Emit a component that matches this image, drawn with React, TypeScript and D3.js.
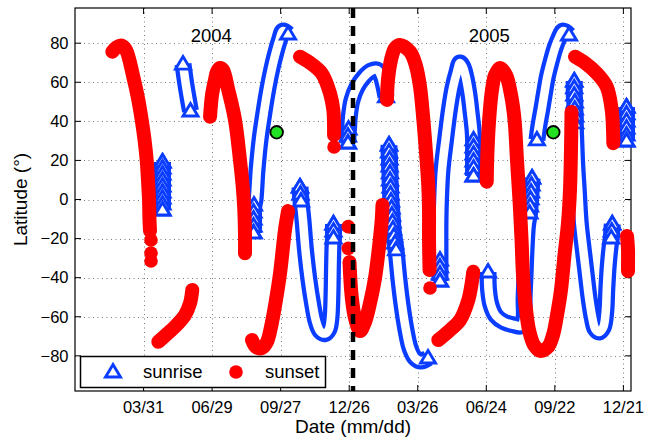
import React from "react";
import * as d3 from "d3";

// ---------- axes data ----------
const dayDomain: [number, number] = [1, 731];
const latDomain: [number, number] = [-98, 98];
const xTickDays = [91, 181, 271, 361, 451, 541, 631, 721];
const xTickLabels = ["03/31", "06/29", "09/27", "12/26", "03/26", "06/24", "09/22", "12/21"];
const yTicks = [-80, -60, -40, -20, 0, 20, 40, 60, 80];
const yearBoundaryDay = 366;
const yearLabels = ["2004", "2005"];
const yearLabelDays = [180, 545];
const yearLabelLat = 84;
const siteMarkers = [[265.8, 34.4], [629, 34.4]];

// ---------- sunset (red) curves: [day, latitude] ----------
const sunsetA = [[50.0, 75.6], [55.8, 78.0], [62.1, 78.8], [68.0, 76.5], [77.5, 62.8], [83.7, 51.9], [88.6, 40.7], [92.3, 30.5], [95.1, 20.2], [96.8, 10.0], [98.2, -0.3], [98.8, -10.5], [99.5, -16.1]];
const sunsetB = [[110.4, -72.8], [121.8, -68.8], [132.3, -65.1], [145.4, -59.1], [152, -53.1], [155, -46.3]];
const sunsetC = [[178.3, 42.4], [180.9, 53.5], [184.8, 61.2], [187.4, 65.3], [191.4, 67.3], [195.3, 66.3], [202.3, 56], [211.1, 40.7], [217.6, 20.2], [221.6, 4.9], [223.3, -5.4], [224.2, -18.2], [224.2, -27.5]];
const sunsetD = [[233.4, -71.9], [238.7, -75.5], [246.6, -76], [253.1, -72.9], [259.3, -63.4], [264.9, -51.4], [270.2, -37.8], [276.7, -15.6], [280.7, -5.9]];
const sunsetE = [[296.4, 73.1], [309.6, 69.9], [324.9, 64.6], [335.8, 54.4], [340.2, 45.8], [341.1, 38.1], [341.1, 33]];
const sunsetF = [[361.4, -32], [364.3, -49.7], [368.6, -60.6], [375.2, -67.3], [381.8, -62.7], [388.3, -53.1], [394.9, -40.2], [399.2, -27.5], [403.7, -10.5], [404.7, -2.8]];
const sunsetG = [[410.6, 50.9], [411.9, 61.2], [415.9, 71.4], [421.2, 77.5], [427.7, 79.1], [440.9, 75.6], [448.4, 68.8], [454, 57.7], [458.4, 40.7], [461.9, 23.6], [464.9, 6.6], [465.8, -5.4], [465.8, -20.7], [466.5, -36.1]];
const sunsetH = [[478, -71.9], [493.4, -66.8], [506.5, -61.7], [517.4, -51.4], [521.8, -42.9], [523.9, -37]];
const sunsetI = [[541.6, 9.1], [542.6, 25.3], [545.2, 43.2], [548.5, 56], [552.5, 63.7], [559, 67.3], [566.9, 63.7], [573.5, 53.5], [578.1, 40.7], [581.3, 20.2], [584.6, -0.3], [587.3, -20.7], [589.2, -38.6], [592.5, -54], [597.1, -66.8], [603.7, -74.5], [611.6, -77.5], [622, -75.5], [628.6, -69.4], [633.9, -59.1], [639.1, -46.3], [643.7, -28.4], [648.3, -12], [650.9, 4.9], [652.2, 25.3], [652.9, 44.8]];
const sunsetJ = [[657.5, 73.1], [670.6, 69.9], [686, 64.6], [699.1, 57.7], [705.7, 45.8], [707.4, 35.6], [707.8, 28.8]];
const sunsetK = [[725.8, -18.7], [727.1, -25.8], [727.1, -32], [727.1, -36.6]];
const sunsetSingles = [[100.8, -20.7], [100.8, -27.4], [100.8, -31.5], [341.1, 26.9], [359.8, -13.9], [359.8, -25], [467.1, -45.3]];
const sunsetCurves = [sunsetA, sunsetB, sunsetC, sunsetD, sunsetE, sunsetF, sunsetG, sunsetH, sunsetI, sunsetJ, sunsetK];

// ---------- sunrise (blue) curves: [day, latitude] ----------
const riseA = [[142.8, 69.3], [146.7, 58.6], [150, 50.9], [152.6, 45.3]];
const riseBStack = [[115.9, 19.2], [115.9, 16.1], [115.9, 13], [115.9, 10], [115.9, 6.9], [115.9, 3.8], [115.9, 0.8], [115.9, -2.3], [115.9, -5.4]];
const riseCArc = [[280.7, 84.7], [274.1, 86.2], [269.5, 81.6], [264.9, 75.5], [259.7, 67.3], [254.4, 57.1], [249.2, 44.8], [243.9, 30.5], [240, 15.1], [237.3, -0.3]];
const riseCStack = [[236, -2.8], [235.4, -6.4], [235.4, -10], [235.4, -13.6], [235.4, -17.1]];
const riseDStackL = [[296.4, 6.4], [297, 2.8], [297.7, -0.8]];
const riseDArc = [[300.3, -10.5], [303.6, -25.8], [308.2, -41.2], [312.8, -53], [317.4, -62.2], [322.7, -67.3], [329.3, -68.6], [334.5, -66.3], [337.1, -60.6], [338.4, -48.9], [339.1, -33.5], [339.8, -23.3]];
const riseDStackR = [[340.4, -19.7], [340.4, -16.1], [340.4, -12.5]];
const riseEStack = [[359.4, 28.9], [359.4, 32.5], [360.1, 36.1]];
const riseEArc = [[361.4, 43.2], [364.7, 50.9], [371.3, 57.6], [380.5, 62.7], [389.7, 65.8], [397.6, 66.3], [402.9, 63.2], [406.2, 58.6], [409.4, 52.5]];
const riseFStack = [[413.3, 27.9], [413.3, 24.3], [414, 20.7], [414, 17.1], [414.6, 13.6], [414.6, 10], [415.3, 6.4], [415.3, 2.8], [415.9, -0.8], [416.6, -4.4], [417.2, -7.9], [417.9, -11.5], [418.5, -15.1], [419.8, -18.7], [421.2, -22.3], [422.5, -25.8]];
const riseFArc = [[426.4, -41.2], [430.4, -54], [435.6, -66.8], [440.9, -76], [447.5, -81.1], [455.3, -82.7], [464.5, -81.1]];
const riseGStackL = [[480.2, -41.7], [480.2, -38.1], [480.2, -34.5], [480.2, -31]];
const riseGArc = [[480.2, -23.3], [480.2, -13.1], [480.9, -0.3], [482.9, 15.1], [487.5, 30.5], [492.5, 45.8], [497.3, 57.1], [502.6, 65.3], [506.5, 69.9], [510.4, 67.8], [514.4, 62.2], [518.3, 53.5], [521, 44.8], [523.6, 35.6]];
const riseGStackR = [[524.3, 30.5], [524.3, 26.9], [524.3, 23.3], [524.3, 19.7], [524.3, 16.1], [524.3, 12]];
const riseHArc = [[543.3, -37.1], [544, -46.3], [547.2, -54], [553.8, -59.6], [564.3, -62.7], [577.4, -64.2], [586.7, -64.7], [590.6, -60.6], [590.6, -51.4], [591.9, -38.6], [593.2, -25.8], [595.2, -13.1]];
const riseHStack = [[597.8, -6.9], [598.5, -3.3], [599.1, 0.3], [599.8, 3.8], [600.4, 7.4], [601.1, 11]];
const riseI = [[607.5, 30.5], [610.2, 38.1], [613.7, 45.8], [617.4, 54.5], [621.1, 62.7], [626, 70.4], [631.2, 77.5], [636.5, 82.7], [641.7, 86.2], [649.6, 84.2]];
const riseJStackT = [[656.5, 60.6], [656.5, 57.1], [656.5, 53.5], [657.2, 49.9], [657.2, 46.3], [657.8, 42.7], [657.8, 39.2]];
const riseJArc = [[658.5, 30.5], [659.8, 17.7], [661.8, 4.9], [664.4, -12], [668.4, -25.8], [672.3, -38.6], [676.3, -51.4], [680.2, -60.6], [684.1, -66.3], [689.4, -67.8], [694.7, -65.3], [698, -56.6], [699.2, -46.3], [701.2, -33.5], [703.8, -23.3]];
const riseJStackR = [[705.1, -19.7], [705.8, -16.1], [706.4, -12.5]];
const riseKStack = [[725.1, 47.3], [725.1, 43.8], [725.1, 40.2], [725.1, 36.6], [725.1, 33], [725.1, 29.9]];

const sunriseCurves = [
  riseA,
  riseBStack,
  [...riseCArc, ...riseCStack],
  [...riseDStackL, ...riseDArc, ...riseDStackR],
  [...riseEStack, ...riseEArc],
  [...riseFStack, ...riseFArc],
  [...riseGStackL, ...riseGArc, ...riseGStackR],
  [...riseHArc, ...riseHStack],
  riseI,
  [...riseJStackT, ...riseJArc, ...riseJStackR],
  riseKStack,
];
const sunriseStacks = [riseBStack, riseCStack, riseDStackL, riseDStackR, riseEStack, riseFStack, riseGStackL, riseGStackR, riseHStack, riseJStackT, riseJStackR, riseKStack];

const BLUE = "#0a3dff";
const RED = "#ff0000";
const FONT = "'Liberation Sans', Arial, Helvetica, sans-serif";
const TRI = "M0,-7.5L7.5,5L-7.5,5Z";

export default function App() {
  const W = 645, H = 441;
  const L = 75, R = 631, T = 8, B = 391;
  const x = d3.scaleLinear().domain(dayDomain).range([L, R]);
  const y = d3.scaleLinear().domain(latDomain).range([B, T]);
  const line = d3
    .line<number[]>()
    .x((d) => x(d[0]))
    .y((d) => y(d[1]))
    .curve(d3.curveCatmullRom.alpha(0.5));

  const stackTris: number[][] = [];
  sunriseStacks.forEach((s) => s.forEach((p) => stackTris.push(p)));
  sunriseCurves.forEach((c) => {
    stackTris.push(c[0]);
    stackTris.push(c[c.length - 1]);
  });
  const trisSorted = stackTris.slice().sort((a, b) => b[1] - a[1]);

  return (
    <svg width={W} height={H} style={{ position: "absolute", left: 0, top: 0, background: "#fff" }} fontFamily={FONT}>
      <rect x={0} y={0} width={W} height={H} fill="#fff" />
      {/* grid */}
      {xTickDays.map((d) => (
        <line key={"gx" + d} x1={Math.round(x(d)) + 0.5} x2={Math.round(x(d)) + 0.5} y1={T} y2={B} stroke="#7a7a7a" strokeWidth={1} strokeDasharray="1,3.5" />
      ))}
      {yTicks.map((v) => (
        <line key={"gy" + v} y1={Math.round(y(v)) + 0.5} y2={Math.round(y(v)) + 0.5} x1={L} x2={R} stroke="#7a7a7a" strokeWidth={1} strokeDasharray="1,3.5" />
      ))}
      {/* ticks */}
      {xTickDays.map((d) => (
        <g key={"tx" + d}>
          <line x1={x(d)} x2={x(d)} y1={B} y2={B - 6} stroke="#000" />
          <line x1={x(d)} x2={x(d)} y1={T} y2={T + 6} stroke="#000" />
        </g>
      ))}
      {yTicks.map((v) => (
        <g key={"ty" + v}>
          <line x1={L} x2={L + 6} y1={y(v)} y2={y(v)} stroke="#000" />
          <line x1={R} x2={R - 6} y1={y(v)} y2={y(v)} stroke="#000" />
        </g>
      ))}
      <rect x={L} y={T} width={R - L} height={B - T} fill="none" stroke="#000" strokeWidth={1.2} />

      {/* sunrise bands */}
      {sunriseCurves.map((c, i) => (
        <g key={"sr" + i}>
          <path d={line(c) || ""} fill="none" stroke={BLUE} strokeWidth={17} strokeLinejoin="round" />
          <path d={line(c) || ""} fill="none" stroke="#fff" strokeWidth={8.5} strokeLinejoin="round" />
        </g>
      ))}
      {trisSorted.map((p, i) => (
        <path key={"tri" + i} d={TRI} transform={`translate(${x(p[0])},${y(p[1])})`} fill="#fff" stroke={BLUE} strokeWidth={2.9} strokeLinejoin="miter" />
      ))}

      {/* sunset */}
      {sunsetCurves.map((c, i) => (
        <path key={"ss" + i} d={line(c) || ""} fill="none" stroke={RED} strokeWidth={14} strokeLinecap="round" strokeLinejoin="round" />
      ))}
      {sunsetSingles.map((p, i) => (
        <circle key={"sd" + i} cx={x(p[0])} cy={y(p[1])} r={6.8} fill={RED} />
      ))}

      {/* year boundary */}
      <line x1={x(yearBoundaryDay)} x2={x(yearBoundaryDay)} y1={T} y2={B} stroke="#000" strokeWidth={4.5} strokeDasharray="10,8" />

      {/* sites */}
      {siteMarkers.map((p, i) => (
        <circle key={"g" + i} cx={x(p[0])} cy={y(p[1])} r={6.3} fill="#22e022" stroke="#000" strokeWidth={1.8} />
      ))}

      {/* year labels */}
      {yearLabels.map((t, i) => (
        <text key={t} x={x(yearLabelDays[i])} y={y(yearLabelLat)} textAnchor="middle" dominantBaseline="central" fontSize={18.5} fill="#000">
          {t}
        </text>
      ))}

      {/* tick labels */}
      {xTickDays.map((d, i) => (
        <text key={"xl" + d} x={x(d)} y={413} textAnchor="middle" fontSize={16.5} fill="#000">
          {xTickLabels[i]}
        </text>
      ))}
      {yTicks.map((v) => (
        <text key={"yl" + v} x={68.5} y={y(v) + 5.8} textAnchor="end" fontSize={16.5} fill="#000">
          {v < 0 ? "\u2212" + Math.abs(v) : String(v)}
        </text>
      ))}

      {/* axis labels */}
      <text x={(L + R) / 2} y={433} textAnchor="middle" fontSize={19} fill="#000">Date (mm/dd)</text>
      <text transform={`translate(27,${(T + B) / 2}) rotate(-90)`} textAnchor="middle" fontSize={19} fill="#000">Latitude (°)</text>

      {/* legend */}
      <rect x={80.5} y={356.5} width={245} height={31} fill="#fff" stroke="#000" strokeWidth={1.5} />
      <path d={TRI} transform="translate(113,372)" fill="#fff" stroke={BLUE} strokeWidth={2.9} />
      <text x={143} y={377.5} fontSize={18.5} fill="#000">sunrise</text>
      <circle cx={236} cy={372} r={6.8} fill={RED} />
      <text x={265} y={377.5} fontSize={18.5} fill="#000">sunset</text>
    </svg>
  );
}
